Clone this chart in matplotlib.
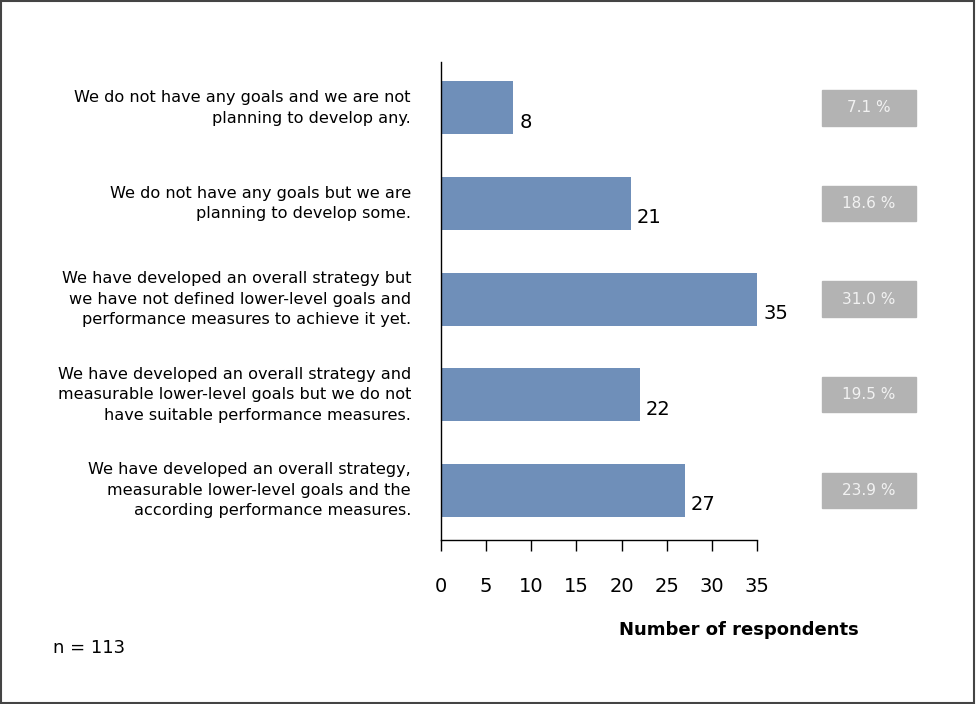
import matplotlib
matplotlib.use('Agg')
import matplotlib.pyplot as plt
from matplotlib.patches import Rectangle
import matplotlib.transforms as mtransforms

# Survey answers (top to bottom) and counts
categories = [
    'We do not have any goals and we are not\nplanning to develop any.',
    'We do not have any goals but we are\nplanning to develop some.',
    'We have developed an overall strategy but\nwe have not defined lower-level goals and\nperformance measures to achieve it yet.',
    'We have developed an overall strategy and\nmeasurable lower-level goals but we do not\nhave suitable performance measures.',
    'We have developed an overall strategy,\nmeasurable lower-level goals and the\naccording performance measures.',
]
counts = [8, 21, 35, 22, 27]
percents = ['7.1 %', '18.6 %', '31.0 %', '19.5 %', '23.9 %']
xticks = [0, 5, 10, 15, 20, 25, 30, 35]
n_total = 113

bar_color = '#6f8fb9'
box_color = '#b3b3b3'

fig = plt.figure(figsize=(9.76, 7.04), dpi=100)
ax = fig.add_axes([441 / 976, 1 - 540 / 704, (757 - 441) / 976, (540 - 62) / 704])

pos = list(range(len(categories)))
ax.barh(pos, counts, height=0.555, color=bar_color)
ax.set_xlim(0, 35)
ax.set_ylim(4.52, -0.48)

for y, c in zip(pos, counts):
    ax.text(c + 0.7, y + 0.15, str(c), va='center', ha='left', fontsize=14)

# grey percentage boxes to the right of the plot
for y, p in zip(pos, percents):
    ax.add_patch(Rectangle((42.2, y - 0.185), 10.4, 0.37, color=box_color, clip_on=False))
    ax.text(47.4, y, p, ha='center', va='center', fontsize=11, color='#f2f2f2')

# category labels
trans = mtransforms.blended_transform_factory(fig.transFigure, ax.transData)
for y, lab in zip(pos, categories):
    ax.text(411 / 976, y, lab, transform=trans, ha='right', va='center',
            fontsize=11.6, linespacing=1.45)

ax.set_yticks([])
ax.set_xticks(xticks)
ax.tick_params(axis='x', direction='out', length=8, width=1, pad=19, labelsize=14)
for s in ['top', 'right']:
    ax.spines[s].set_visible(False)
ax.spines['left'].set_linewidth(1)
ax.spines['bottom'].set_linewidth(1)

fig.text(739 / 976, 1 - 630 / 704, 'Number of respondents', ha='center', va='center',
         fontsize=13, fontweight='bold')
fig.text(53 / 976, 1 - 648 / 704, f'n = {n_total}', ha='left', va='center', fontsize=13)

# outer frame
fig.patches.append(Rectangle((0.001, 0.001), 0.997, 0.997, transform=fig.transFigure,
                             fill=False, edgecolor='#444444', linewidth=1.5))

fig.savefig('out.png', dpi=100)
